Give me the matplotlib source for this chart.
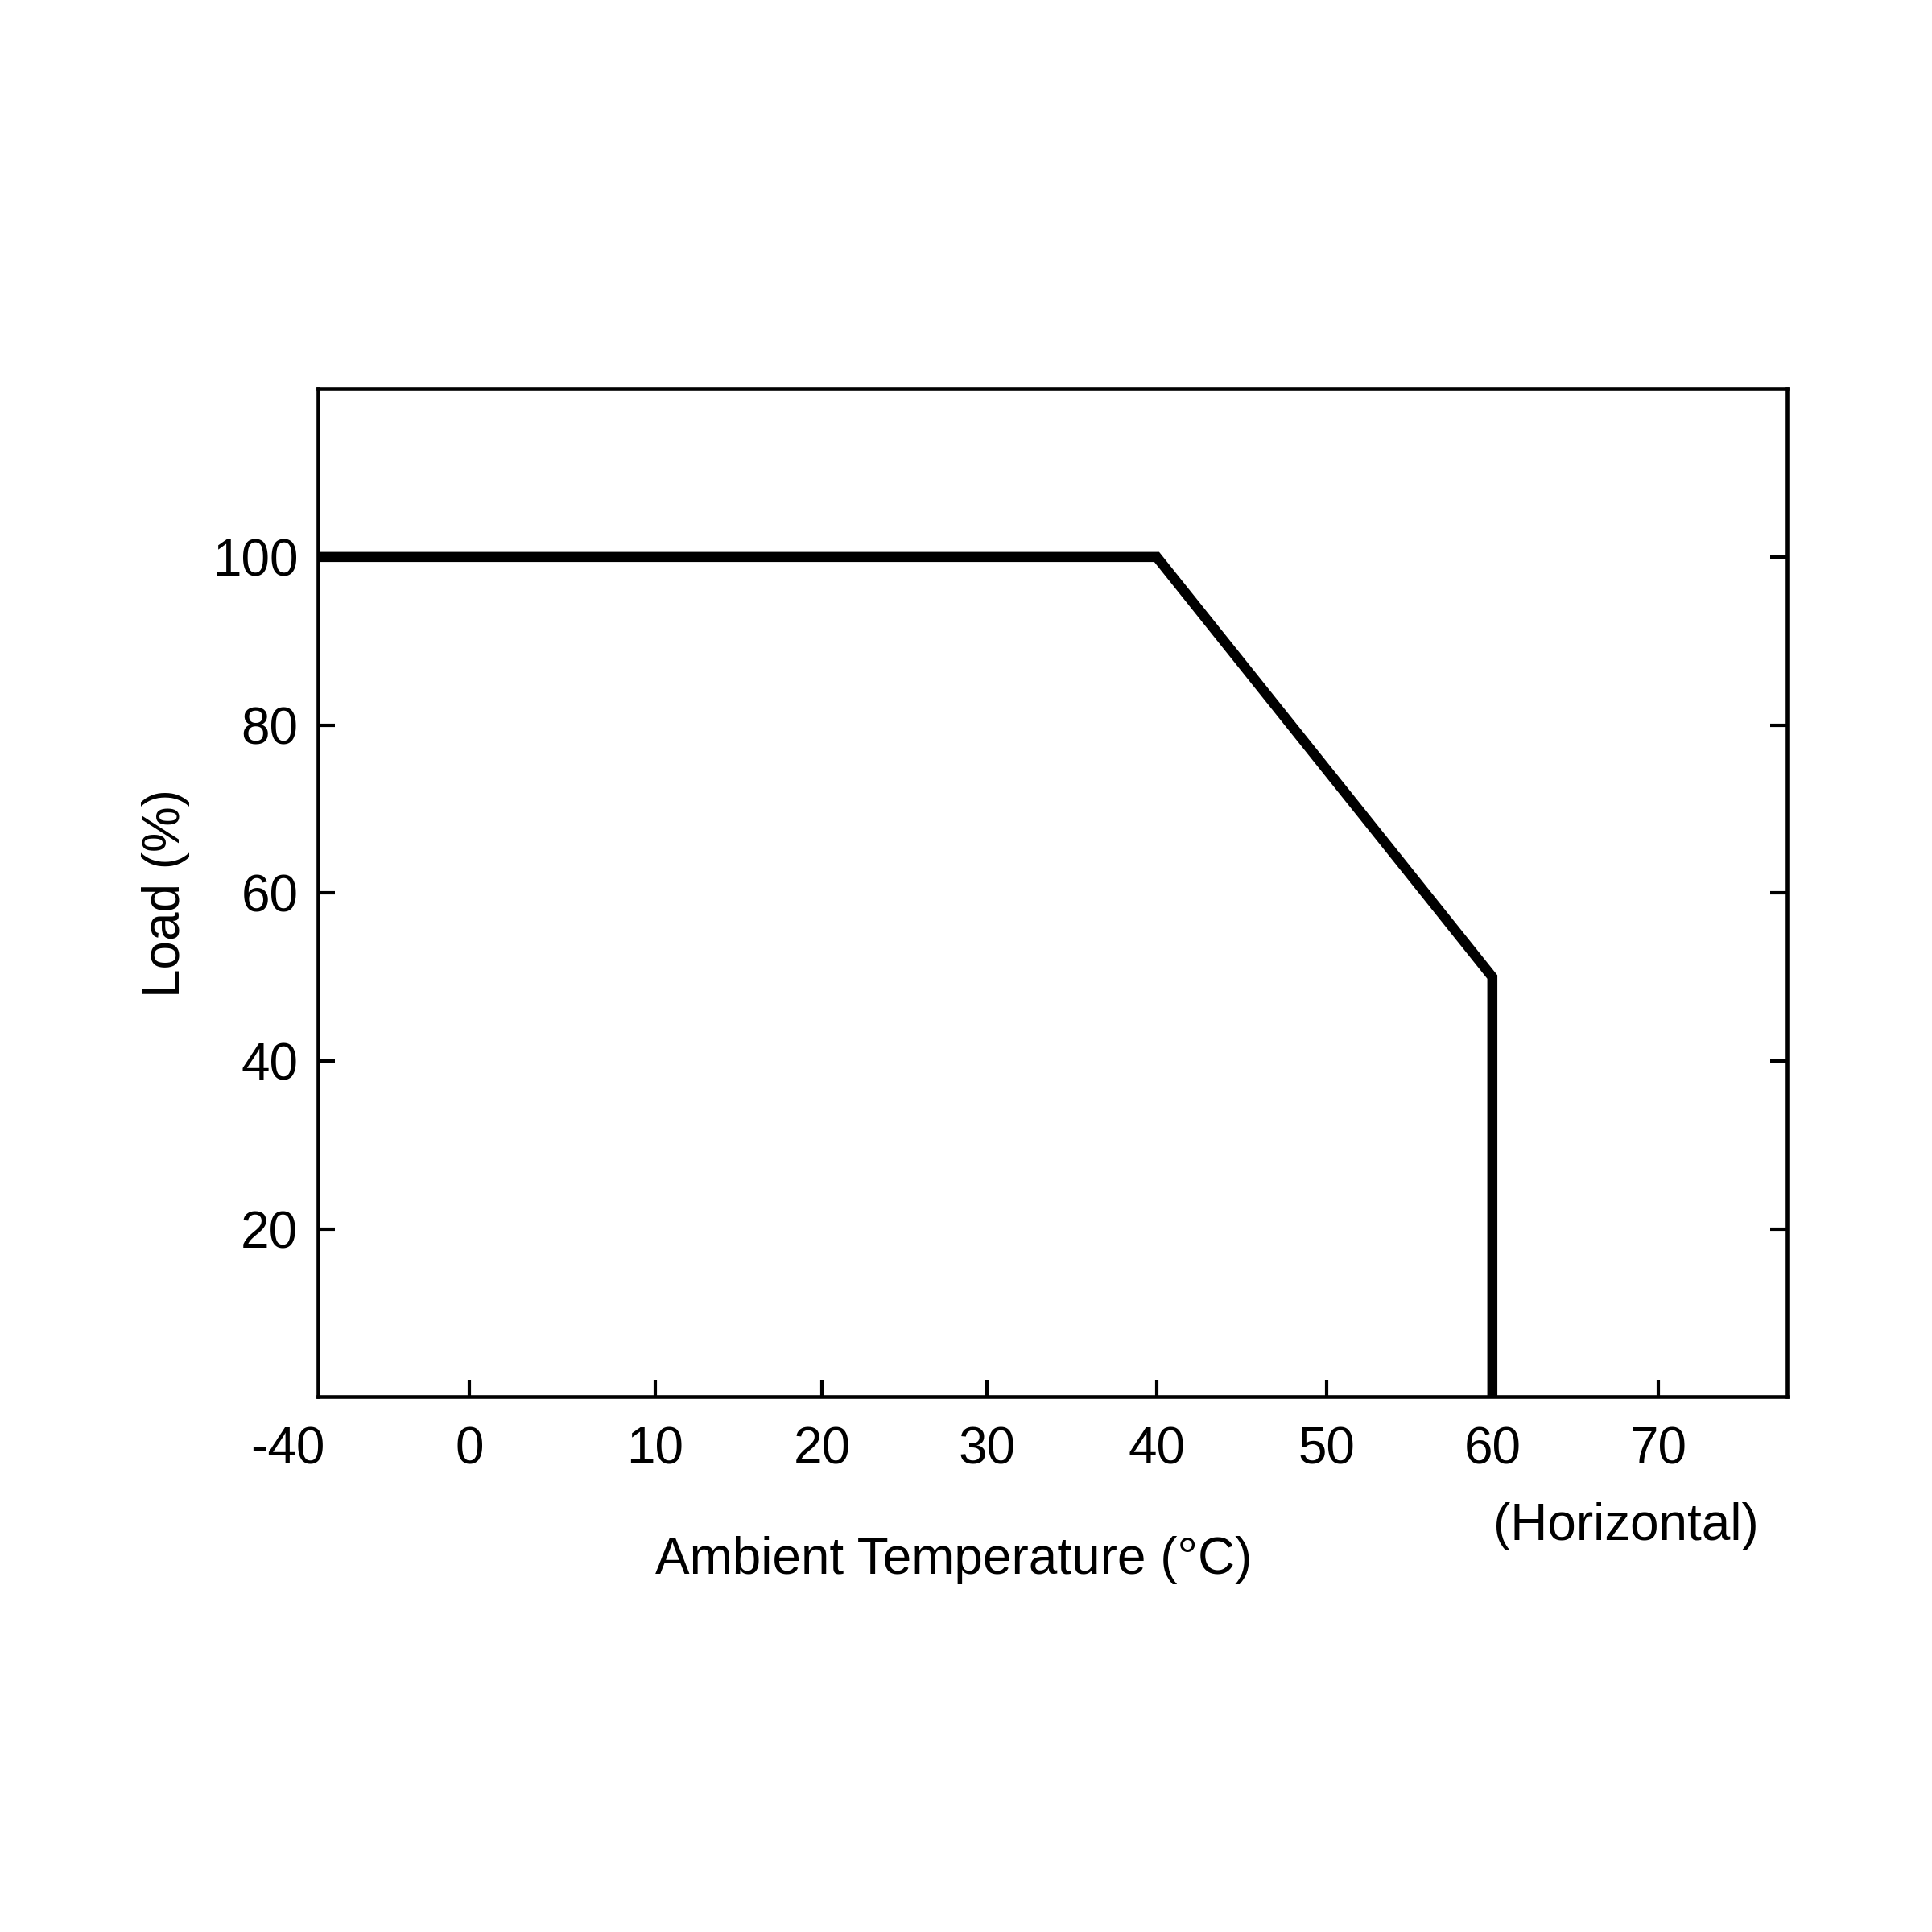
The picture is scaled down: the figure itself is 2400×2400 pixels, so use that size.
import numpy as np
import matplotlib.pyplot as plt

plt.rcParams['font.family'] = ['Liberation Sans', 'DejaVu Sans']

# derating curve
temps = [-40, 40, 60, 60]
loads = [100, 100, 50, 0]

# x axis is not linear (-40 to 0 is compressed), ticks placed as in the drawing
tick_temps = [-40, 0, 10, 20, 30, 40, 50, 60, 70]
tick_pos = [257, 379, 529, 664, 797, 934, 1071, 1205, 1339]
x_range = (257, 1443)
y_ticks = [20, 40, 60, 80, 100]


def to_pos(t):
    return np.interp(t, tick_temps, tick_pos)


fig = plt.figure(figsize=(24, 24), dpi=100)
ax = fig.add_axes([0.1647, 0.2769, 0.925 - 0.1647, 0.7987 - 0.2769])
ax.plot(to_pos(temps), loads, color='black', lw=9, solid_joinstyle='miter', solid_capstyle='butt')
ax.set_xlim(*x_range)
ax.set_ylim(0, 120)
ax.set_xticks(to_pos(tick_temps[1:]))
ax.set_xticklabels([])
ax.set_yticks(y_ticks)
ax.set_yticklabels([str(v) for v in y_ticks], fontsize=46)
ax.tick_params(axis='both', direction='in', length=15, width=3, left=True, right=True)
ax.tick_params(axis='y', pad=18)
for s in ax.spines.values():
    s.set_linewidth(3.3)

for t in tick_temps:
    x = to_pos(t)
    if t == -40:
        x -= 25
    ax.text(x, -3.5, str(t), ha='center', va='top', fontsize=46)
ax.text(1313, -12.5, '(Horizontal)', ha='center', va='top', fontsize=46)
ax.text(770, -16.5, 'Ambient Temperature (°C)', ha='center', va='top', fontsize=46)
ax.set_ylabel('Load (%)', fontsize=46, labelpad=20)

fig.savefig('out.png', dpi=100)
